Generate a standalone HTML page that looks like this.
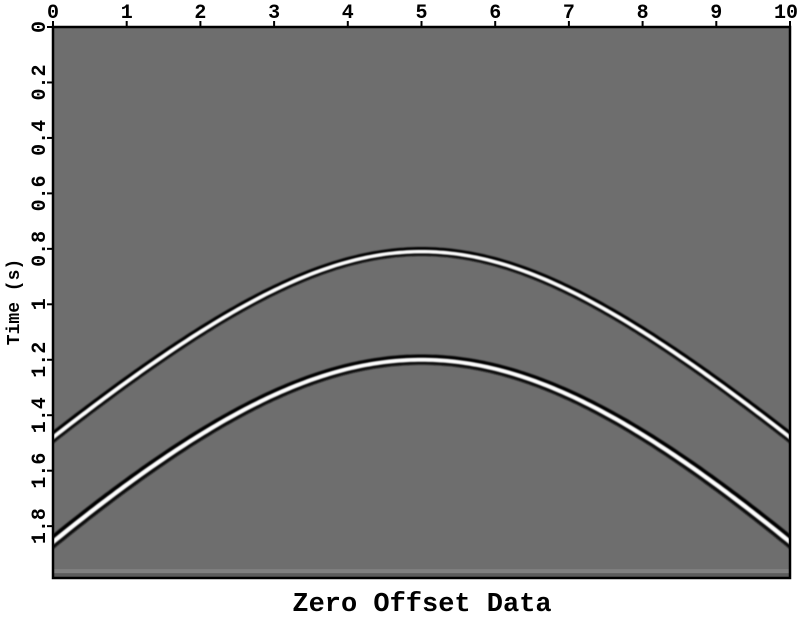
<!DOCTYPE html>
<html><head><meta charset="utf-8"><style>
body{margin:0;background:#fff;width:804px;height:613px;overflow:hidden}
text{font-family:"Liberation Mono",monospace;font-weight:bold;fill:#000}
</style></head><body>
<svg width="804" height="613">
<defs><clipPath id="pc"><rect x="53" y="27" width="737" height="551"/></clipPath>
<filter id="bl"><feGaussianBlur stdDeviation="0.7"/></filter></defs>
<rect x="53" y="27" width="737" height="551" fill="#6e6e6e"/>
<g id="marks" clip-path="url(#pc)"></g>
<rect x="53" y="27" width="737" height="551" fill="none" stroke="#000" stroke-width="2.5"/>
<g id="axes"></g>
<text x="422" y="611" text-anchor="middle" font-size="27">Zero Offset Data</text>
<text transform="translate(19,302) rotate(-90)" text-anchor="middle" font-size="18">Time (s)</text>
</svg>
<script>
const xTicks=[0,1,2,3,4,5,6,7,8,9,10];
const yTicks=[0,0.2,0.4,0.6,0.8,1,1.2,1.4,1.6,1.8];
const apexX=[5,5];
const apexT=[0.81,1.2];
const edgeT=[1.48,1.857];
const X=v=>53+v*73.7, Y=t=>27+t*277.3;
const ns="http://www.w3.org/2000/svg";
const marks=document.getElementById('marks'), axes=document.getElementById('axes');
let s=document.createElementNS(ns,'rect');s.setAttribute('x',53);s.setAttribute('y',Y(1.955));s.setAttribute('width',737);s.setAttribute('height',4);s.setAttribute('fill','#808080');


marks.appendChild(s);
s=document.createElementNS(ns,'rect');s.setAttribute('x',53);s.setAttribute('y',Y(1.97));s.setAttribute('width',737);s.setAttribute('height',6);s.setAttribute('fill','#5c5c5c');


marks.appendChild(s);
apexT.forEach((t0,i)=>{
  const k=(edgeT[i]**2-t0**2)/(apexX[i]**2);
  const pts=[];
  const tf=x=>Math.sqrt(t0*t0+k*(x-apexX[i])**2);
  for(let x=-0.5;x<=10.5;x+=0.05){
    const sl=(Y(tf(x+0.01))-Y(tf(x-0.01)))/(X(0.02)-X(0));
    pts.push([X(x),Y(tf(x)),Math.pow(1+sl*sl,0.75)]);
  }
  const band=(a,b)=>{
    const top=pts.map(p=>p[0].toFixed(1)+','+(p[1]+a*p[2]).toFixed(1));
    const bot=pts.slice().reverse().map(p=>p[0].toFixed(1)+','+(p[1]+b*p[2]).toFixed(1));
    return 'M'+top.join('L')+'L'+bot.join('L')+'Z';
  };
  const w=i?1.15:1;
  [[-4.6*w,-1.4*w,'#000'],[1.4*w,4.4*w,'#111'],[-1.6*w,1.6*w,'#fff']].forEach(([a,b,c],j)=>{
    const p=document.createElementNS(ns,'path');
    p.setAttribute('d',band(a,b));p.setAttribute('fill',c);p.setAttribute('filter','url(#bl)');
    
    
    marks.appendChild(p);
  });
});
xTicks.forEach(v=>{
  const l=document.createElementNS(ns,'line');l.setAttribute('x1',X(v));l.setAttribute('x2',X(v));l.setAttribute('y1',21);l.setAttribute('y2',27);l.setAttribute('stroke','#000');l.setAttribute('stroke-width',2);
  
  
  axes.appendChild(l);
  const t=document.createElementNS(ns,'text');t.setAttribute('x',v==10?X(v)-4:X(v));t.setAttribute('y',18);t.setAttribute('text-anchor','middle');t.setAttribute('font-size',20);t.textContent=v;
  
  
  axes.appendChild(t);
});
yTicks.forEach(v=>{
  const l=document.createElementNS(ns,'line');l.setAttribute('x1',47);l.setAttribute('x2',53);l.setAttribute('y1',Y(v));l.setAttribute('y2',Y(v));l.setAttribute('stroke','#000');l.setAttribute('stroke-width',2);
  
  
  axes.appendChild(l);
  const t=document.createElementNS(ns,'text');t.setAttribute('transform','translate(45,'+Y(v)+') rotate(-90)');t.setAttribute('text-anchor','middle');t.setAttribute('font-size',20);t.textContent=v;
  
  
  axes.appendChild(t);
});
</script>
</body></html>
